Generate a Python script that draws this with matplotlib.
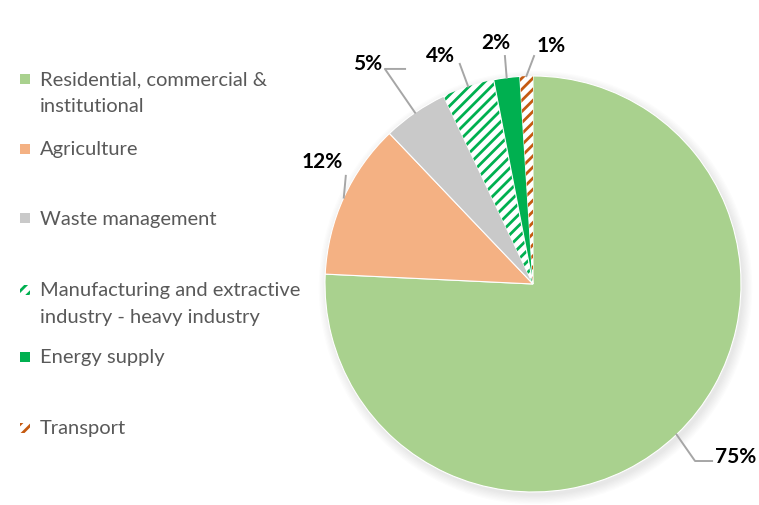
import numpy as np
import matplotlib
matplotlib.use("Agg")
import matplotlib.pyplot as plt
from matplotlib.patches import Rectangle, Circle

plt.rcParams['font.family'] = ['Lato', 'DejaVu Sans']
plt.rcParams['hatch.linewidth'] = 2.0

# Emission shares by sector (%)
sectors = ['Residential, commercial &\ninstitutional', 'Agriculture', 'Waste management',
           'Manufacturing and extractive\nindustry - heavy industry', 'Energy supply', 'Transport']
shares = [75, 12, 5, 4, 2, 1]
colors = ['#A9D18E', '#F4B183', '#C9C9C9', '#00B050', '#00B050', '#C55A11']
hatched = [False, False, False, True, False, True]

W, H = 759, 506
fig = plt.figure(figsize=(W / 100, H / 100), dpi=100)
fig.patch.set_facecolor('white')

# pie centre (533, 285) px, radius 208 px
cx, cy, R = 533, 285, 208
ax = fig.add_axes([(cx - R) / W, (H - cy - R) / H, 2 * R / W, 2 * R / H])
ax.axis('off')

wedges, _ = ax.pie(shares, colors=colors, startangle=90, counterclock=False,
                   radius=1, wedgeprops=dict(linewidth=0.8, edgecolor='white'))
ax.set_xlim(-1, 1)
ax.set_ylim(-1, 1)
ax.set_aspect('equal')

# soft drop shadow
for i in range(8):
    ax.add_patch(Circle((0.012, -0.018), 1.0 + 0.006 * i, color='black',
                        alpha=0.012, lw=0, zorder=0, clip_on=False))

for w, c, h in zip(wedges, colors, hatched):
    w.set_zorder(2)
    if h:
        w.set_facecolor('white')
        w.set_edgecolor(c)
        w.set_hatch('///')
        w.set_linewidth(0)

# percentage labels and leader lines (data coords)
label_pos = [(0.975, -0.827), (-1.014, 0.591), (-0.793, 1.062),
             (-0.443, 1.101), (-0.178, 1.164), (0.087, 1.149)]
leaders = [[(0.779, -0.851), (0.861, -0.851)],
           [(-0.90, 0.52)],
           [(-0.712, 1.034), (-0.615, 1.034)],
           [(-0.352, 1.058)],
           [(-0.135, 1.096)],
           [(0.005, 1.096)]]
for w, s, pos, pts in zip(wedges, shares, label_pos, leaders):
    mid = np.deg2rad((w.theta1 + w.theta2) / 2)
    edge = (np.cos(mid), np.sin(mid))
    path = [edge] + pts
    xs, ys = zip(*path)
    ax.plot(xs, ys, color='#A6A6A6', lw=1.4, clip_on=False, zorder=3)
    ax.text(pos[0], pos[1], f'{s}%', ha='center', va='center', fontsize=15,
            fontweight='bold', color='black', clip_on=False)

# legend on the left
legend_y = [93.5, 150, 219, 304, 358, 429]
for lab, c, h, y in zip(sectors, colors, hatched, legend_y):
    first = y - 13.5 if '\n' in lab else y
    fy = (H - first) / H
    if h:
        box = Rectangle((20 / W, fy - 5 / H), 10 / W, 10 / H, transform=fig.transFigure,
                        facecolor='white', edgecolor=c, hatch='///', lw=0)
    else:
        box = Rectangle((20 / W, fy - 5 / H), 10 / W, 10 / H, transform=fig.transFigure,
                        facecolor=c, edgecolor='none')
    fig.patches.append(box)
    fig.text(40 / W, (H - y) / H, lab, ha='left', va='center', fontsize=14.5,
             color='#595959', linespacing=1.7)

fig.savefig('out.png', dpi=100)
